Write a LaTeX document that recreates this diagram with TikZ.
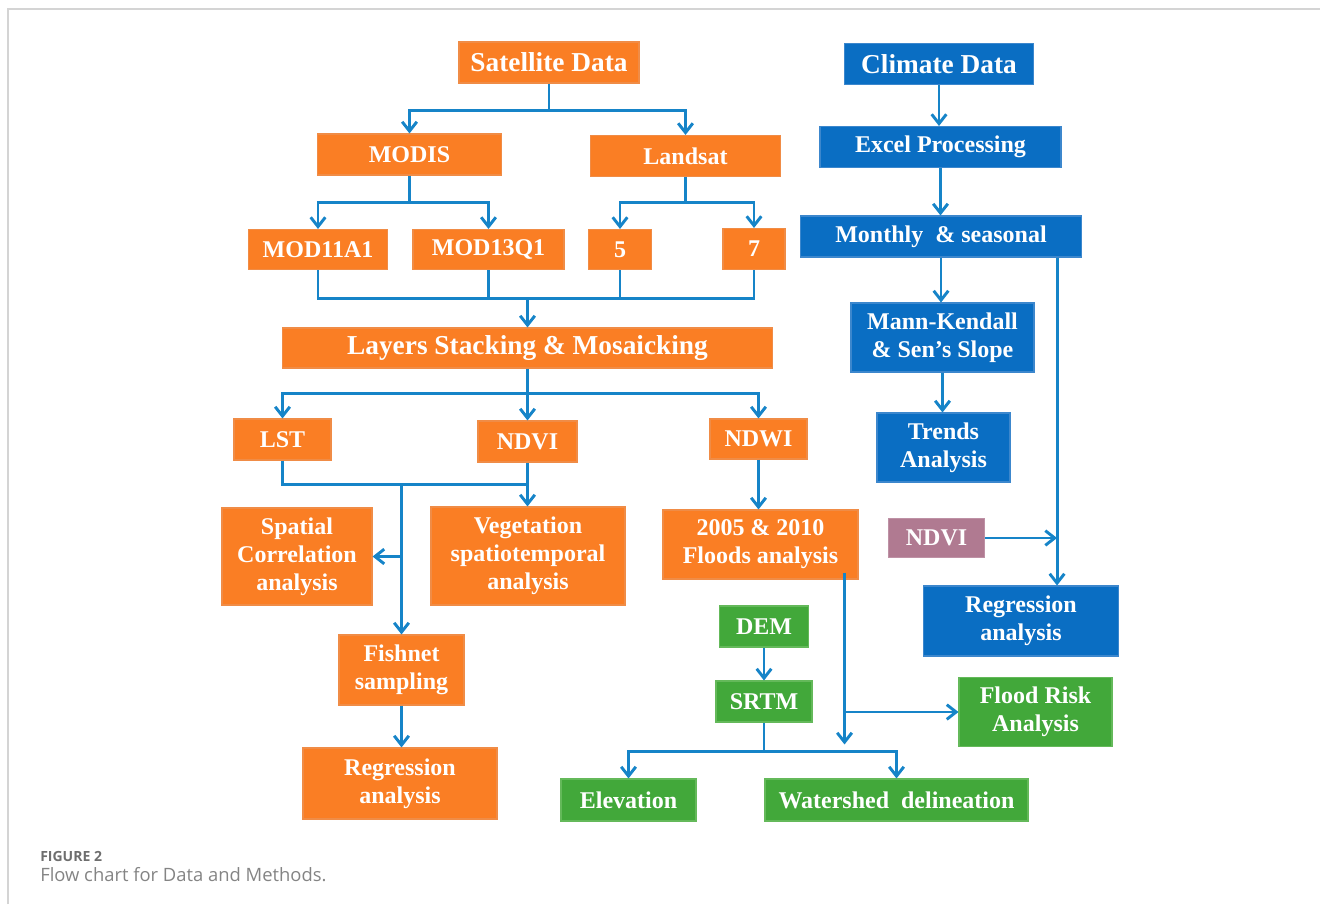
\documentclass[tikz,border=0pt]{standalone}
\usepackage{fontspec}
\setmainfont{Liberation Serif}
\newfontfamily\capfont{Open Sans}
\usetikzlibrary{positioning, arrows.meta, calc}

\definecolor{satorange}{RGB}{250,126,36}
\definecolor{satedge}{RGB}{240,140,70}
\definecolor{climblue}{RGB}{10,110,195}
\definecolor{climedge}{RGB}{60,135,205}
\definecolor{demgreen}{RGB}{66,168,58}
\definecolor{demedge}{RGB}{100,185,90}
\definecolor{ndvimauve}{RGB}{176,122,145}
\definecolor{ndviedge}{RGB}{190,145,165}
\definecolor{flowblue}{RGB}{22,132,200}
\definecolor{framegray}{RGB}{212,212,212}
\definecolor{capgray}{RGB}{110,110,110}

\begin{document}
\begin{tikzpicture}[
    x=0.75pt, y=-0.75pt,
    font=\fontsize{18}{21}\selectfont\bfseries,
    >={Straight Barb[length=7pt,width=11pt]},
    dims/.style 2 args={minimum width=#1*0.75pt, minimum height=#2*0.75pt},
    basebox/.style={rectangle, text=white, align=center, inner sep=1pt, line width=0.8pt},
    satbox/.style={basebox, fill=satorange, draw=satedge},
    climbox/.style={basebox, fill=climblue, draw=climedge},
    dembox/.style={basebox, fill=demgreen, draw=demedge},
    ndvibox/.style={basebox, fill=ndvimauve, draw=ndviedge},
    big/.style={font=\fontsize{20.5}{24}\selectfont\bfseries},
    flow/.style={->, draw=flowblue, line width=2.2pt},
    link/.style={draw=flowblue, line width=2.2pt},
    capbold/.style={inner sep=0pt, text=capgray, font=\capfont\fontsize{10.5}{12}\selectfont\bfseries},
    captext/.style={inner sep=0pt, text=capgray!85, font=\capfont\fontsize{13.8}{16}\selectfont}
]
\useasboundingbox (0,0) rectangle (1320,904);

% frame of the figure panel
\draw[framegray, line width=1.5pt] (7.5,904) -- (7.5,9) -- (1320,9);

% 1. Satellite data (left)
\node[satbox, big, dims={180}{41}] (satdata) at (549,62.5) {Satellite Data};
\node[satbox, dims={184}{41}] (modis) at (409.5,154.5) {MODIS};
\node[satbox, dims={190}{41}] (landsat) at (685.5,156) {Landsat};
\node[satbox, dims={139}{40}] (mod11) at (318,249.5) {MOD11A1};
\node[satbox, dims={151}{40}] (mod13) at (488.5,249.5) {MOD13Q1};
\node[satbox, dims={63}{40}] (ls5) at (620,249.5) {5};
\node[satbox, dims={62}{41}] (ls7) at (754,249) {7};
\node[satbox, big, dims={490}{40}] (stack) at (527.5,348) {Layers Stacking \& Mosaicking};

% 2. Indices
\node[satbox, dims={97}{41}] (lst) at (282.5,439.5) {LST};
\node[satbox, dims={99}{41}] (ndvi) at (527.5,441.5) {NDVI};
\node[satbox, dims={97}{40}] (ndwi) at (758.5,439) {NDWI};

% 3. Analyses
\node[satbox, dims={150}{97}] (spcorr) at (297,556.5) {Spatial\\Correlation\\analysis};
\node[satbox, dims={194}{98}] (vegan) at (528,556) {Vegetation\\spatiotemporal\\analysis};
\node[satbox, dims={195}{69}] (floods) at (760.5,544.5) {2005 \& 2010\\Floods analysis};
\node[satbox, dims={125}{70}] (fishnet) at (401.5,670) {Fishnet\\sampling};
\node[satbox, dims={194}{71}] (regsat) at (400,783.5) {Regression\\analysis};

% 4. Climate data (right)
\node[climbox, big, dims={189}{41}] (climdata) at (939,64) {Climate Data};
\node[climbox, dims={241}{41}] (excel) at (940.5,147) {Excel Processing};
\node[climbox, dims={281}{41}] (monthly) at (941,236.5) {Monthly\ \ \& seasonal};
\node[climbox, dims={183}{69}] (mk) at (942.5,337.5) {Mann-Kendall\\\& Sen’s Slope};
\node[climbox, dims={133}{69}] (trends) at (943.5,447.5) {Trends\\Analysis};
\node[ndvibox, dims={96}{39}] (ndvin) at (936.5,538) {NDVI};
\node[climbox, dims={195}{70}] (regclim) at (1021,621) {Regression\\analysis};

% 5. Terrain
\node[dembox, dims={89}{41}] (dem) at (764,626.5) {DEM};
\node[dembox, dims={96}{41}] (srtm) at (764,701.5) {SRTM};
\node[dembox, dims={153}{69}] (frisk) at (1035.5,712) {Flood Risk\\Analysis};
\node[dembox, dims={135}{42}] (elev) at (628.5,800) {Elevation};
\node[dembox, dims={263}{42}] (wshed) at (896.5,800) {Watershed\ \ delineation};

% caption
\node[capbold, anchor=base west] (figlbl) at (40,861) {FIGURE 2};
\node[captext, anchor=base west] (figcap) at (40,881) {Flow chart for Data and Methods.};

% Paths
\draw[flow] (satdata.south) -- ++(0,27) coordinate (sj) -| (modis.north);
\draw[flow] (sj) -| (landsat.north);
\draw[flow] (modis.south) -- ++(0,27) coordinate (mj) -| (mod11.north);
\draw[flow] (mj) -| (mod13.north);
\draw[flow] (landsat.south) -- ++(0,25.5) coordinate (lj) -| (ls5.north);
\draw[flow] (lj) -| (ls7.north);

\coordinate (kj0) at ($(stack.north)+(0,-29)$);
\draw[link] (mod11.south) -- (mod11.south |- kj0) -| (ls7.south);
\draw[link] (mod13.south) -- (mod13.south |- kj0);
\draw[link] (ls5.south) -- (ls5.south |- kj0);
\draw[flow] (kj0) -- (stack.north);

\draw[flow] (stack.south) -- ++(0,25) coordinate (kj) -| (lst.north);
\draw[flow] (kj) -| (ndwi.north);
\draw[flow] (kj) -- (ndvi.north);

\draw[link] (lst.south) -- ++(0,24) coordinate (tj) -| (ndvi.south);
\draw[flow] (ndvi.south) -- (ndvi.south |- vegan.north);
\draw[flow] (tj -| fishnet.north) -- (fishnet.north);
\draw[flow] (fishnet.north |- spcorr.east) -- (spcorr.east);
\draw[flow] (fishnet.south) -- (fishnet.south |- regsat.north);
\draw[flow] (ndwi.south) -- (ndwi.south |- floods.north);

\coordinate (fv) at ($(floods.south east)+(-14,-7)$);
\coordinate (fend) at ($(fv |- wshed.north)+(0,-34)$);
\draw[flow] (fv) -- (fend);
\draw[flow] (fv |- frisk.west) -- (frisk.west);

\draw[flow] (dem) -- (srtm);
\draw[flow] (srtm.south) -- ++(0,29) coordinate (dj) -| (elev.north);
\draw[flow] (dj) -| (wshed.north);

\draw[flow] (climdata.south) -- (climdata.south |- excel.north);
\draw[flow] (excel.south) -- (excel.south |- monthly.north);
\draw[flow] (monthly.south) -- (monthly.south |- mk.north);
\draw[flow] (mk.south) -- (mk.south |- trends.north);
\coordinate (cv) at ($(monthly.south east)+(-25,0)$);
\draw[flow] (cv) -- (cv |- regclim.north);
\draw[flow] (ndvin.east) -- (ndvin.east -| cv);

\end{tikzpicture}
\end{document}
